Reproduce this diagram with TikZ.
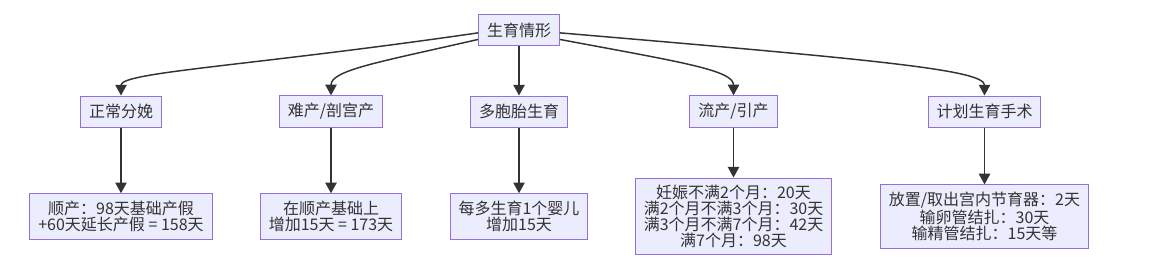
\documentclass[tikz,border=0pt]{standalone}
\usepackage{fontspec}
\setmainfont{Noto Sans CJK SC}
\usepackage{xcolor}
\definecolor{nodefill}{HTML}{ECECFF}
\definecolor{nodeline}{HTML}{9370DB}
\definecolor{edgeline}{HTML}{333333}
\usetikzlibrary{arrows.meta,positioning}

\begin{document}
\begin{tikzpicture}[
  x=0.75pt, y=-0.75pt,
  font=\fontsize{12pt}{11.8pt}\selectfont,
  box/.style={draw=nodeline, line width=0.75pt, fill=nodefill, text=edgeline,
              align=center, inner xsep=6.3pt, inner ysep=5.6pt},
  cat/.style={box, minimum height=23.25pt},
  arr/.style={-{Triangle[length=8pt,width=8.5pt]}, draw=edgeline, line width=1.1pt}
]
\useasboundingbox (0,0) rectangle (1169,268);
% top and middle row
\node[cat] (birth)  at (519,30)    {生育情形};
\node[cat] (normal) at (121,111.5) {正常分娩};
\node[cat] (hard)   at (331,111.5) {难产/剖宫产};
\node[cat] (multi)  at (519,111.5) {多胞胎生育};
\node[cat] (abort)  at (733.5,111.5) {流产/引产};
\node[cat] (plan)   at (984.5,111.5) {计划生育手术};
% leaves
\node[box] (normald) at (121,216.5) {顺产：98天基础产假\\+60天延长产假 = 158天};
\node[box] (hardd)   at (331,216.5) {在顺产基础上\\增加15天 = 173天};
\node[box] (multid)  at (519,216.5) {每多生育1个婴儿\\增加15天};
\node[box] (abortd)  at (733.5,216.5) {妊娠不满2个月：20天\\满2个月不满3个月：30天\\满3个月不满7个月：42天\\满7个月：98天};
\node[box] (pland)   at (984.5,216.5) {放置/取出宫内节育器：2天\\输卵管结扎：30天\\输精管结扎：15天等};
% curved links from the top
\draw[arr] (birth.184) .. controls (250,66) and (121,72) .. (normal.north);
\draw[arr] (birth.193) .. controls (380,62) and (331,70) .. (hard.north);
\draw[arr] (birth) -- (multi);
\draw[arr] (birth.347) .. controls (680,62) and (733.5,70) .. (abort.north);
\draw[arr] (birth.356) .. controls (880,60) and (984.5,70) .. (plan.north);
% straight links down
\draw[arr] (normal) -- (normald);
\draw[arr] (hard)   -- (hardd);
\draw[arr] (multi)  -- (multid);
\draw[arr] (abort)  -- (abortd);
\draw[arr] (plan)   -- (pland);
\end{tikzpicture}
\end{document}
